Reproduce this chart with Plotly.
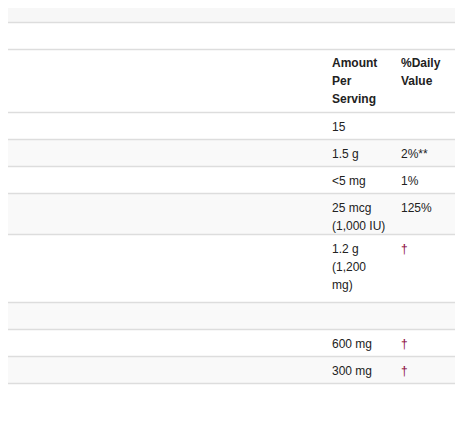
import plotly.graph_objects as go

title = "Supplement Facts"
serving = "1 Fish Softgel"
header = ["Amount<br>Per<br>Serving", "%Daily<br>Value"]
nutrients = ["Calories", "Total Fat", "Cholesterol",
             "Vitamin D3 (as Cholecalciferol) (from Lanolin)",
             "Fish Oil Concentrate", "Omega-3 Fatty Acids:",
             "Eicosapentaenoic Acid (EPA)", "Docosahexaenoic Acid (DHA)"]
amounts = ["15", "1.5 g", "<5 mg", "25 mcg<br>(1,000 IU)",
           "1.2 g<br>(1,200<br>mg)", "", "600 mg", "300 mg"]
daily = ["", "2%**", "1%", "125%", "†", "", "†", "†"]
footnotes = ["**Percent Daily Values are based on a 2,000 calorie diet.",
             "†Daily Values not established."]

W, H = 463, 427
OFF = 8  # page body margin
FONT = "Liberation Sans, Arial, sans-serif"
TXT = "#222"
LINE = "#dddddd"
X0, X1, X2 = 5, 330, 399
LH = 18

fig = go.Figure()
shapes, ann = [], []

def lines_in(s):
    return s.count("<br>") + 1

def text(x, y, s, size=12, color=TXT, bold=False):
    for k, part in enumerate(s.split("<br>")):
        if bold:
            part = "<b>" + part + "</b>"
        ann.append(dict(x=x, y=y + k * LH, text=part, xref="x", yref="y", xanchor="left",
                        yanchor="top", showarrow=False, align="left",
                        font=dict(family=FONT, size=size, color=color)))

def hline(y):
    shapes.append(dict(type="line", x0=0, x1=W, y0=y, y1=y, xref="x", yref="y",
                       line=dict(color=LINE, width=1.5)))

# title row
shapes.append(dict(type="rect", x0=0, x1=W, y0=0, y1=22, fillcolor="#f7f7f7", line_width=0, layer="below"))
text(X0, 1, title, size=15, color="#111", bold=True)
hline(22.5)
text(X0, 27, "<b>Serving Size:</b> " + serving, size=12)
hline(49.5)
text(X1, 54, header[0], bold=True)
text(X2, 54, header[1], bold=True)
y = 112.5
hline(y)
for i, (n, a, d) in enumerate(zip(nutrients, amounts, daily)):
    h = 27 if lines_in(a) == 1 else (41 if lines_in(a) == 2 else 68)
    if i % 2 == 1:
        shapes.append(dict(type="rect", x0=0, x1=W, y0=y, y1=y + h, fillcolor="#f9f9f9",
                           line_width=0, layer="below"))
    text(X0, y + 5, n)
    text(X1, y + 5, a)
    text(X2, y + 5, d, color="#8b0a3a" if d == "†" else TXT)
    y += h
    hline(y)
for j, f in enumerate(footnotes):
    text(X0, y + 4 + 17 * j, f)

fig.update_layout(width=W - OFF, height=H - OFF, margin=dict(l=0, r=0, t=0, b=0),
                  plot_bgcolor="white", paper_bgcolor="white",
                  xaxis=dict(range=[OFF, W], visible=False, fixedrange=True),
                  yaxis=dict(range=[H, OFF], visible=False, fixedrange=True),
                  shapes=shapes, annotations=ann, showlegend=False)
fig.write_html("out.html")
